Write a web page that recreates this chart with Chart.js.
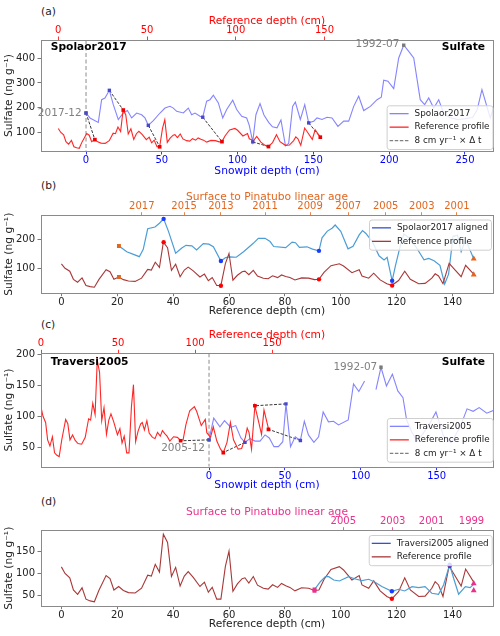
<!DOCTYPE html>
<html><head><meta charset="utf-8">
<script src="https://cdn.jsdelivr.net/npm/chart.js@4.4.1/dist/chart.umd.min.js"></script>
<style>
html,body{margin:0;padding:0;background:#fff}
body{width:500px;height:636px;position:relative;overflow:hidden;font-family:'DejaVu Sans',sans-serif}
canvas{position:absolute;left:0}
.pl{position:absolute;left:41px;font-size:10.7px;line-height:12px;color:#222}
</style></head><body>
<div class="pl" style="top:5.7px">(a)</div>
<div class="pl" style="top:180px">(b)</div>
<div class="pl" style="top:319px">(c)</div>
<div class="pl" style="top:495.7px">(d)</div>
<canvas id="ca" width="500" height="166" style="top:14px"></canvas>
<canvas id="cb" width="500" height="128" style="top:190px"></canvas>
<canvas id="cc" width="500" height="164" style="top:328px"></canvas>
<canvas id="cd" width="500" height="131" style="top:505px"></canvas>
<script>
// ---------------- DATA ----------------
// Reference profile (reference depth cm, sulfate ng/g)
const refDepth = [0, 1.3, 3, 4.3, 5.8, 7.4, 8.8, 10.3, 11.8, 13.4, 16, 17.4, 18.8, 20.5, 22.2, 24, 26.4, 28.7, 30.9, 32.2, 33.6, 35.1, 36.5, 38, 39.4, 40.9, 42.5, 44, 45.4, 47.2, 49.6, 51.2, 52.6, 54, 55.6, 57.1, 58.7, 60, 61.4, 63, 64.7, 65.7, 67.1, 68.7, 70.2, 72.3, 74, 75.6, 77.4, 78.8, 80.3, 81.8, 83.6, 86, 88.5, 90.6, 92.2, 94, 96.5, 99.5, 101, 104, 106.6, 107.6, 110, 111.8, 114.1, 116.5, 118.3, 120.7, 122.9, 124.9, 127.9, 130.2, 132.6, 133.8, 135, 136.6, 138.8, 140.4, 143.1, 144.7, 147.6];
const refValue = [115, 100, 90, 62, 52, 67, 41, 37, 35, 61, 95, 88, 62, 70, 61, 56, 55, 66, 96, 94, 121, 103, 190, 171, 93, 114, 71, 94, 104, 91, 70, 80, 57, 68, 41, 41, 116, 151, 59, 76, 88, 90, 78, 93, 73, 66, 64, 74, 68, 77, 72, 68, 60, 67, 66, 61, 62, 86, 109, 115.5, 108, 85, 95, 73.6, 66, 83, 60, 47, 41.5, 58, 90, 62, 47, 48, 66, 81, 73.6, 47, 117, 100, 71, 110, 80];

// Spolaor2017 snowpit (snowpit depth cm, sulfate)
const spolaorDepth = [0, 2.6, 8.1, 10.3, 12.5, 15.4, 18, 21.3, 24.6, 27.3, 30.1, 33.4, 36.7, 38.9, 41.1, 44.4, 48.8, 52.1, 55.4, 57.6, 59.8, 64.2, 67.5, 69.7, 71.9, 75.2, 77, 79.6, 81.8, 84, 87.3, 90.2, 92.8, 96.8, 99.4, 102.7, 106, 107.7, 110, 112.1, 114.8, 117.4, 120.5, 123, 126, 128.6, 131.6, 133.7, 136.3, 138.1, 141.4, 144.3, 146.9, 150.2, 152.4, 155.7, 159, 162.3, 166.2, 170, 173.3, 176.6, 179.9, 183.2, 187.6, 192, 194.8, 196.4, 199.2, 203, 206.3, 209.6, 212.9, 216.2, 220.5, 223.4, 226.1, 229.4, 232.7, 236, 240, 245, 250, 255, 258, 261.2, 266.7, 270];
const spolaorValue = [178, 158, 140, 232, 239, 270, 212, 151, 178, 188, 158, 178, 171, 158, 128, 147, 178, 198, 205, 198, 185, 178, 198, 171, 178, 165, 161, 226, 232, 250, 219, 158, 192, 230, 192, 165, 158, 128, 61, 171, 216, 170, 140, 122, 118, 150, 45, 55, 205, 222, 152, 212, 138, 145, 158, 152, 161, 158, 124, 145, 145, 205, 246, 188, 205, 232, 242, 311, 307, 277, 401, 453, 428, 401, 232, 212, 239, 198, 232, 175, 160, 152, 155, 160, 190, 273, 158, 219];

// Spolaor2017 aligned on reference depth
const spolaorAlignedDepth = [20.6, 23.4, 25.8, 27.9, 29.3, 30.9, 33.5, 35.1, 36.6, 38.3, 40.9, 43.1, 44.6, 46.7, 48.4, 50.8, 52.8, 54.4, 57.1, 58.8, 60.4, 62.6, 65.2, 68.7, 70.5, 72.9, 74.7, 76, 80.3, 82.6, 83.8, 85.2, 87.9, 89.9, 92.2, 93.3, 95.2, 96.9, 98, 100, 102.6, 104.4, 106.6, 107.8, 109, 111.4, 113.7, 115.5, 116.6, 118.4, 119.6, 121.5, 122.6, 124.4, 126.9, 129.8, 131.5, 133.4, 135.5, 137.2, 138.6, 140.2, 141.8, 143.1, 144.7, 147.6];
const spolaorAlignedValue = [177, 157, 148, 140, 165, 236, 242, 255, 270, 228, 152, 170, 179, 177, 163, 185, 183, 174, 125, 137, 139, 138, 157, 186, 203, 203, 192, 175, 171, 190, 188, 172, 174, 166, 160, 205, 228, 238, 249, 227, 167, 176, 215, 230, 220, 190, 143, 129, 138, 57, 110, 185, 218, 205, 174, 129, 134, 126, 110, 46, 80, 210, 214, 157, 198, 133];

// Traversi2005 snowpit (snowpit depth cm, sulfate) - null = gap
const traversiDepth = [0, 3.1, 7.2, 10.2, 14.3, 17.6, 21, 23.7, 27, 30.3, 33.6, 36.9, 39.7, 42.8, 45.7, 48.6, 50.7, 53.7, 56.8, 60.2, 62.8, 65.5, 69.1, 72.2, 75.2, 78.7, 82, 85.3, 91.7, 95.2, 98.7, 102.5, 106, 110, 113.3, 116.9, 120.8, 124.4, 127.8, 130.2, 133.5, 137, 141, 145.6, 149.5, 154.5, 159.5, 165.5, 170, 174, 178, 183, 188];
const traversiValue = [62, 97, 83, 93, 82, 85, 65, 58, 64, 60, 60, 70, 65, 51, 51, 59, 120, 51, 67, 61, 92, 70, 58, 67, 107, 91, 92, 86, 94, 152, 140, 157, null, 143, 179, 149, 168, 141, 130, 94, 75, 60, 72, 89, 107, 68, 57, 83, 112, 108, 114, 105, 110];

// Traversi2005 aligned on reference depth
const traversiAlignedDepth = [90.6, 92.7, 94.5, 95.7, 97.5, 99.5, 102.8, 105.2, 107.6, 110, 112.3, 114.7, 118.3, 120.7, 122.9, 125.5, 127.9, 130.2, 132.6, 135, 136.8, 139, 140.4, 142.2, 144.6, 146.3, 147.6];
const traversiAlignedValue = [63, 81, 92.6, 92.6, 85, 82.7, 92.6, 87.3, 83.4, 86.6, 80, 70, 59, 63.7, 59.8, 69.7, 67.4, 69.7, 54.6, 52.3, 73.6, 120, 89, 52.3, 69.7, 67.4, 75];

// Tie points panel (a)
const tieA_snowDepth = [0, 15.4, 41.1, 77, 110, 146.9];
const tieA_snowValue = [178, 270, 128, 161, 61, 138];
const tieA_refDepth = [20.6, 36.6, 57.1, 92.2, 118.4, 147.6];
const tieA_refValue = [70, 190, 41, 62, 42, 80];
const dateA_labels = ['2017-12', '1992-07'];
const dateA_depth = [0, 209.6];
const dateA_value = [178, 453];

// Tie points panel (b)
const tieB_depth = [36.6, 57.1, 92.2, 118.4];
const tieB_alignedValue = [270, 125, 160, 57];
const tieB_refValue = [190, 40, 62, 41];
const startB_depth = [20.6, 20.6];
const startB_value = [177, 70];
const endB_depth = [147.6, 147.6];
const endB_value = [133, 78];

// Tie points panel (c)
const tieC_snowDepth = [0, 23.7, 50.7, 60.2];
const tieC_snowValue = [62, 58, 120, 61];
const tieC_refDepth = [90.6, 118.3, 138.8, 147.6];
const tieC_refValue = [60.5, 41.5, 117, 79];
const dateC_labels = ['2005-12', '1992-07'];
const dateC_depth = [0, 113.3];
const dateC_value = [62, 179];

// Tie points panel (d)
const startD_depth = [90.6, 90.6];
const startD_value = [63, 60];
const tieD_depth = [118.3, 139];
const tieD_alignedValue = [59, 120];
const tieD_refValue = [42, 117];
const endD_depth = [147.6, 147.6];
const endD_value = [77, 61];

// Tick labels
const snowTicksA = [0, 50, 100, 150, 200, 250];
const refTicksA = [0, 50, 100, 150];
const sulfTicksA = [100, 200, 300, 400];
const refDepthTicks = [0, 20, 40, 60, 80, 100, 120, 140];
const ageB_labels = ['2017', '2015', '2013', '2011', '2009', '2007', '2005', '2003', '2001'];
const ageB_depth = [28.8, 43.9, 57.1, 72.9, 89, 102.7, 116.1, 129, 141.6];
const sulfTicksB = [100, 200];
const snowTicksC = [0, 50, 100, 150];
const refTicksC = [0, 50, 100, 150];
const sulfTicksC = [50, 100, 150, 200];
const ageD_labels = ['2005', '2003', '2001', '1999'];
const ageD_depth = [100.9, 118.6, 132.5, 146.8];
const sulfTicksD = [50, 100, 150];

// ---------------- STYLE / HELPERS ----------------
const FF = "'DejaVu Sans', sans-serif";
const TICKSIZE = 10;
const BLUE = '#0000ff', RED = '#ff0000', ORANGE = '#e2661f', PINK = '#e8308c', INK = '#222222';
const SNOWLINE = 'rgba(110,110,255,0.85)', REFLINE = '#ff2626';
const ALIGNLINE = '#4c9dd6', BROWN = '#a83838';

function pts(xs, ys) { return xs.map((x, i) => ({x: x, y: ys[i]})); }
function fixTicks(vals) { return function (s) { s.ticks = vals.map(v => ({value: v})); }; }
function lineDS(xs, ys, color, xAxisID, w, order) {
  return {data: pts(xs, ys), xAxisID: xAxisID, yAxisID: 'y', showLine: true, borderColor: color,
    backgroundColor: color, borderWidth: w || 1.1, pointRadius: 0, fill: false, tension: 0,
    spanGaps: false, order: order || 2};
}
function markDS(xs, ys, color, xAxisID, style, r) {
  return {data: pts(xs, ys), xAxisID: xAxisID, yAxisID: 'y', showLine: false, pointStyle: style,
    pointRadius: r, backgroundColor: color, borderColor: color, borderWidth: 0, order: 0};
}
function xScale(pos, min, max, tickVals, color, title, titleColor, h, titlePad, tickPad, labels) {
  return {
    type: 'linear', position: pos, min: min, max: max,
    afterBuildTicks: fixTicks(tickVals),
    afterFit: function (s) { s.height = h; },
    ticks: {color: color, font: {family: FF, size: TICKSIZE}, padding: tickPad, maxRotation: 0, minRotation: 0,
      autoSkip: false, callback: labels ? function (v, i) { return labels[i]; } : function (v) { return String(v); }},
    grid: {display: true, drawOnChartArea: false, drawTicks: true, tickLength: 3.5,
      tickColor: color === INK ? '#555' : color, tickWidth: 0.8},
    border: {display: false},
    title: {display: true, text: title, color: titleColor, font: {family: FF, size: 10.7}, padding: titlePad}
  };
}
function yScale(min, max, vals) {
  return {
    type: 'linear', position: 'left', min: min, max: max,
    afterBuildTicks: fixTicks(vals),
    afterFit: function (s) { s.width = 41; },
    ticks: {color: INK, font: {family: FF, size: TICKSIZE}, padding: 2.5, callback: function (v) { return String(v); }},
    grid: {display: true, drawOnChartArea: false, drawTicks: true, tickLength: 3.5, tickColor: '#555', tickWidth: 0.8},
    border: {display: false},
    title: {display: true, text: 'Sulfate (ng g\u207B\u00B9)', color: INK, font: {family: FF, size: 10.7}, padding: {top: 3.2, bottom: 0}}
  };
}

const EXTRA = {};
const extrasPlugin = {
  id: 'extras',
  beforeDatasetsDraw(chart) {
    const E = EXTRA[chart.canvas.id]; if (!E) return;
    const ctx = chart.ctx, ca = chart.chartArea, sc = chart.scales;
    ctx.save();
    ctx.beginPath(); ctx.rect(ca.left, ca.top, ca.right - ca.left, ca.bottom - ca.top); ctx.clip();
    (E.vlines || []).forEach(v => {
      const x = sc[v.axis].getPixelForValue(v.value);
      ctx.strokeStyle = v.color; ctx.lineWidth = v.width; ctx.setLineDash(v.dash);
      ctx.beginPath(); ctx.moveTo(x, ca.top); ctx.lineTo(x, ca.bottom); ctx.stroke();
    });
    (E.ties || []).forEach(t => {
      ctx.strokeStyle = t.color; ctx.lineWidth = t.width; ctx.setLineDash(t.dash);
      for (let i = 0; i < t.ax.length; i++) {
        ctx.beginPath();
        ctx.moveTo(sc[t.axisA].getPixelForValue(t.ax[i]), sc.y.getPixelForValue(t.ay[i]));
        ctx.lineTo(sc[t.axisB].getPixelForValue(t.bx[i]), sc.y.getPixelForValue(t.by[i]));
        ctx.stroke();
      }
    });
    ctx.restore();
  },
  afterDraw(chart) {
    const E = EXTRA[chart.canvas.id]; if (!E) return;
    const ctx = chart.ctx, ca = chart.chartArea, sc = chart.scales;
    ctx.save();
    ctx.setLineDash([]);
    ctx.strokeStyle = '#8a8a8a'; ctx.lineWidth = 1;
    const l = Math.floor(ca.left) + 0.5, t = Math.floor(ca.top) + 0.5;
    ctx.strokeRect(l, t, Math.round(ca.right) - l + 0.5, Math.round(ca.bottom) - t + 0.5);
    (E.texts || []).forEach(tx => {
      ctx.font = (tx.bold ? 'bold ' : '') + tx.size + 'px ' + FF;
      ctx.fillStyle = tx.color; ctx.textAlign = tx.align; ctx.textBaseline = 'middle';
      let x, y;
      if (tx.axis) { x = sc[tx.axis].getPixelForValue(tx.x) + tx.dx; y = sc.y.getPixelForValue(tx.y) + tx.dy; }
      else { x = tx.side === 'left' ? ca.left + tx.dx : ca.right - tx.dx; y = ca.top + tx.dy; }
      ctx.fillText(tx.text, x, y);
    });
    const L = E.legend;
    if (L) {
      ctx.font = L.size + 'px ' + FF;
      const tw = Math.max.apply(null, L.items.map(it => ctx.measureText(it.label).width));
      const w = L.padL + L.handle + L.gap + tw + L.padR;
      const h = L.items.length * L.row + 2 * L.padV;
      const right = ca.right - L.dr, left = right - w;
      const top = L.anchor === 'top' ? ca.top + L.dy : ca.bottom - L.dy - h;
      ctx.beginPath();
      if (ctx.roundRect) ctx.roundRect(left + 0.5, top + 0.5, w, h, 2.5); else ctx.rect(left + 0.5, top + 0.5, w, h);
      ctx.fillStyle = 'rgba(255,255,255,0.82)'; ctx.fill();
      ctx.strokeStyle = '#cfcfcf'; ctx.lineWidth = 1; ctx.stroke();
      L.items.forEach((it, i) => {
        const yy = top + L.padV + L.row * (i + 0.5);
        ctx.strokeStyle = it.color; ctx.lineWidth = it.width || 1.3; ctx.setLineDash(it.dash || []);
        ctx.beginPath(); ctx.moveTo(left + L.padL, yy); ctx.lineTo(left + L.padL + L.handle, yy); ctx.stroke();
        ctx.setLineDash([]);
        ctx.fillStyle = INK; ctx.textAlign = 'left'; ctx.textBaseline = 'middle';
        ctx.fillText(it.label, left + L.padL + L.handle + L.gap, yy);
      });
    }
    ctx.restore();
  }
};
Chart.register(extrasPlugin);

function makeChart(id, datasets, scales) {
  return new Chart(document.getElementById(id), {
    type: 'scatter',
    data: {datasets: datasets},
    options: {
      responsive: false, animation: false, devicePixelRatio: 1,
      layout: {padding: {left: 0, right: 7, top: 0, bottom: 0}},
      plugins: {legend: {display: false}, tooltip: {enabled: false}},
      events: [],
      scales: scales
    }
  });
}
const legendBase = {size: 8.8, row: 13.5, padV: 1.6, padL: 3, handle: 19, gap: 6, padR: 3};

// ---------------- PANEL (a) ----------------
EXTRA.ca = {
  vlines: [{axis: 'x', value: dateA_depth[0], color: '#8c8c8c', width: 1, dash: [4, 2.5]}],
  ties: [{axisA: 'x', ax: tieA_snowDepth, ay: tieA_snowValue, axisB: 'xr', bx: tieA_refDepth, by: tieA_refValue,
    color: '#222', width: 0.9, dash: [3, 1.5]}],
  texts: [
    {text: 'Spolaor2017', side: 'left', dx: 9.7, dy: 7.7, bold: true, size: 10.7, color: '#000', align: 'left'},
    {text: 'Sulfate', side: 'right', dx: 8, dy: 7.7, bold: true, size: 10.7, color: '#000', align: 'right'},
    {text: dateA_labels[0], axis: 'x', x: dateA_depth[0], y: dateA_value[0], dx: -4.3, dy: 0.7, size: 10.5, color: '#808080', align: 'right'},
    {text: dateA_labels[1], axis: 'x', x: dateA_depth[1], y: dateA_value[1], dx: -4.4, dy: -1, size: 10.5, color: '#808080', align: 'right'}
  ],
  legend: Object.assign({}, legendBase, {anchor: 'bottom', dr: 0.5, dy: 2, items: [
    {label: 'Spolaor2017', color: SNOWLINE},
    {label: 'Reference profile', color: REFLINE},
    {label: '8 cm yr\u207B\u00B9 \u00D7 \u0394 t', color: '#808080', dash: [3.5, 1.6]}
  ]})
};
makeChart('ca', [
  markDS(tieA_snowDepth, tieA_snowValue, '#4848cc', 'x', 'rect', 2.4),
  markDS(tieA_refDepth, tieA_refValue, '#ee0000', 'xr', 'rect', 2.6),
  markDS(dateA_depth, dateA_value, '#7a7a7a', 'x', 'rect', 2.4),
  lineDS(spolaorDepth, spolaorValue, SNOWLINE, 'x', 1.1, 3),
  lineDS(refDepth, refValue, REFLINE, 'xr', 1.1, 2)
], {
  x: xScale('bottom', -29.7, 268.5, snowTicksA, BLUE, 'Snowpit depth (cm)', BLUE, 29, {top: 0, bottom: 1.9}, 0.2),
  xr: xScale('top', -9.75, 244.9, refTicksA, RED, 'Reference depth (cm)', RED, 26, {top: 1.3, bottom: 0}, 0),
  y: yScale(24, 474, sulfTicksA)
});

// ---------------- PANEL (b) ----------------
EXTRA.cb = {
  legend: Object.assign({}, legendBase, {anchor: 'top', dr: 2, dy: 3.8, items: [
    {label: 'Spolaor2017 aligned', color: '#3552cc'},
    {label: 'Reference profile', color: BROWN}
  ]})
};
makeChart('cb', [
  markDS(startB_depth, startB_value, ORANGE, 'x', 'rect', 2.8),
  markDS(endB_depth, endB_value, ORANGE, 'x', 'triangle', 3.4),
  markDS(tieB_depth, tieB_alignedValue, '#1a3cff', 'x', 'circle', 2.2),
  markDS(tieB_depth, tieB_refValue, '#ff0000', 'x', 'circle', 2.2),
  lineDS(spolaorAlignedDepth, spolaorAlignedValue, ALIGNLINE, 'x', 1.2, 3),
  lineDS(refDepth, refValue, BROWN, 'x', 1.1, 2)
], {
  x: xScale('bottom', -7.3, 154.5, refDepthTicks, INK, 'Reference depth (cm)', INK, 25.3, {top: 0, bottom: 0.6}, 0),
  xt: xScale('top', -7.3, 154.5, ageB_depth, ORANGE, 'Surface to Pinatubo linear age', ORANGE, 25.7, {top: 1.3, bottom: 0}, 0, ageB_labels),
  y: yScale(16, 281, sulfTicksB)
});

// ---------------- PANEL (c) ----------------
EXTRA.cc = {
  vlines: [{axis: 'x', value: dateC_depth[0], color: '#8c8c8c', width: 1, dash: [4, 2.5]}],
  ties: [{axisA: 'x', ax: tieC_snowDepth, ay: tieC_snowValue, axisB: 'xr', bx: tieC_refDepth, by: tieC_refValue,
    color: '#222', width: 0.9, dash: [3, 1.5]}],
  texts: [
    {text: 'Traversi2005', side: 'left', dx: 9.7, dy: 9, bold: true, size: 10.7, color: '#000', align: 'left'},
    {text: 'Sulfate', side: 'right', dx: 8, dy: 9, bold: true, size: 10.7, color: '#000', align: 'right'},
    {text: dateC_labels[0], axis: 'x', x: dateC_depth[0], y: dateC_value[0], dx: -4, dy: 8.4, size: 10.5, color: '#808080', align: 'right'},
    {text: dateC_labels[1], axis: 'x', x: dateC_depth[1], y: dateC_value[1], dx: -3.7, dy: 0, size: 10.5, color: '#808080', align: 'right'}
  ],
  legend: Object.assign({}, legendBase, {anchor: 'bottom', dr: 0.3, dy: 5, items: [
    {label: 'Traversi2005', color: SNOWLINE},
    {label: 'Reference profile', color: REFLINE},
    {label: '8 cm yr\u207B\u00B9 \u00D7 \u0394 t', color: '#808080', dash: [3.5, 1.6]}
  ]})
};
makeChart('cc', [
  markDS(tieC_snowDepth, tieC_snowValue, '#4848cc', 'x', 'rect', 2.4),
  markDS(tieC_refDepth, tieC_refValue, '#ee0000', 'xr', 'rect', 2.6),
  markDS(dateC_depth, dateC_value, '#7a7a7a', 'x', 'rect', 2.4),
  lineDS(traversiDepth, traversiValue, SNOWLINE, 'x', 1.1, 3),
  lineDS(refDepth, refValue, REFLINE, 'xr', 1.1, 2)
], {
  x: xScale('bottom', -110.7, 187.1, snowTicksC, BLUE, 'Snowpit depth (cm)', BLUE, 25.3, {top: 0, bottom: 0.6}, 0),
  xr: xScale('top', 0, 293.3, refTicksC, RED, 'Reference depth (cm)', RED, 25.3, {top: 0.6, bottom: 0}, 0),
  y: yScale(18.7, 201.6, sulfTicksC)
});

// ---------------- PANEL (d) ----------------
EXTRA.cd = {
  legend: Object.assign({}, legendBase, {anchor: 'top', dr: 1.3, dy: 4.3, items: [
    {label: 'Traversi2005 aligned', color: '#3552cc'},
    {label: 'Reference profile', color: BROWN}
  ]})
};
makeChart('cd', [
  markDS(startD_depth, startD_value, PINK, 'x', 'rect', 2.8),
  markDS(endD_depth, endD_value, PINK, 'x', 'triangle', 3.4),
  markDS(tieD_depth, tieD_alignedValue, '#1a3cff', 'x', 'circle', 2.2),
  markDS(tieD_depth, tieD_refValue, '#ff0000', 'x', 'circle', 2.2),
  lineDS(traversiAlignedDepth, traversiAlignedValue, ALIGNLINE, 'x', 1.2, 2),
  lineDS(refDepth, refValue, BROWN, 'x', 1.1, 3)
], {
  x: xScale('bottom', -7.3, 154.5, refDepthTicks, INK, 'Reference depth (cm)', INK, 30.3, {top: 0, bottom: 5.6}, 0),
  xt: xScale('top', -7.3, 154.5, ageD_depth, PINK, 'Surface to Pinatubo linear age', PINK, 25.7, {top: 0.9, bottom: 0}, 0, ageD_labels),
  y: yScale(26, 198, sulfTicksD)
});
</script>
</body></html>
